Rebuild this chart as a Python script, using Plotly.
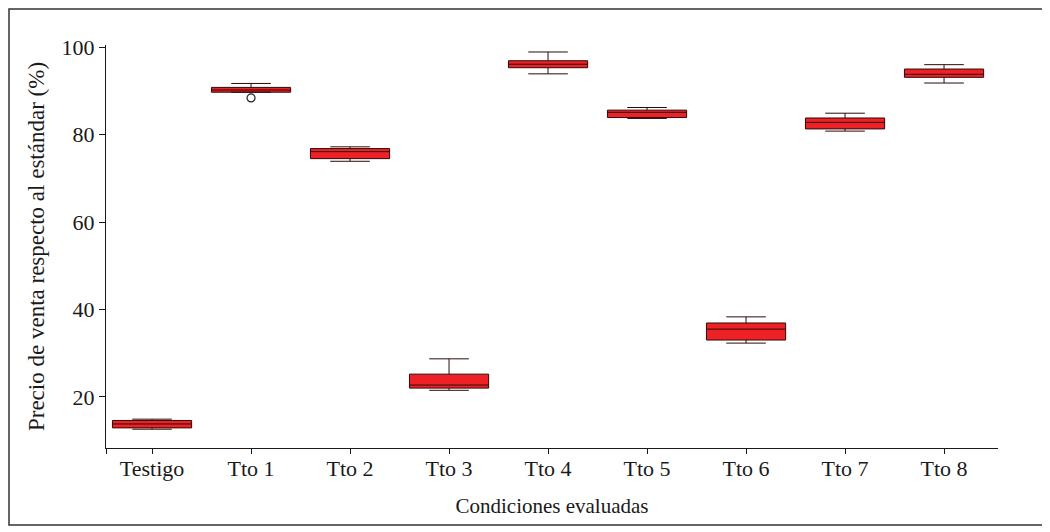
import plotly.graph_objects as go

categories = ["Testigo", "Tto 1", "Tto 2", "Tto 3", "Tto 4", "Tto 5", "Tto 6", "Tto 7", "Tto 8"]
lower_whisker = [12.6, 89.7, 73.9, 21.5, 93.9, 83.7, 32.3, 80.8, 91.8]
q1_values = [12.9, 89.7, 74.5, 22.0, 95.3, 83.9, 33.0, 81.3, 93.1]
median_values = [13.8, 90.2, 76.1, 22.7, 96.1, 85.1, 35.5, 82.8, 93.8]
q3_values = [14.6, 90.8, 76.8, 25.2, 96.9, 85.6, 36.9, 83.8, 95.0]
upper_whisker = [14.9, 91.7, 77.2, 28.7, 98.9, 86.2, 38.3, 84.9, 96.0]
outlier_cat = ["Tto 1"]
outlier_val = [88.4]

pos = list(range(len(categories)))
font_family = "Liberation Serif, Times New Roman, serif"

# the page adds an 8px body margin; plot area in window pixels: x 106..998, y 45..448
L, T, PW, PH = 98, 37, 892, 403

fig = go.Figure()
fig.add_trace(go.Box(
    x=pos, q1=q1_values, median=median_values, q3=q3_values,
    lowerfence=lower_whisker, upperfence=upper_whisker,
    width=0.8, whiskerwidth=0.5,
    fillcolor="#ee2226", line=dict(color="#2e0a0a", width=1),
    boxpoints=False, showlegend=False, hoverinfo="skip",
))
fig.add_trace(go.Scatter(
    x=[categories.index(c) for c in outlier_cat], y=outlier_val, mode="markers",
    marker=dict(symbol="circle-open", size=8, color="#222222", line=dict(width=1.2)),
    showlegend=False,
))

fig.update_layout(
    width=1050, height=532,
    margin=dict(l=L, r=1050 - L - PW, t=T, b=532 - T - PH),
    paper_bgcolor="white", plot_bgcolor="white",
    font=dict(family=font_family, size=22, color="#1a1a1a"),
    xaxis=dict(
        range=[-0.465, 8.545], automargin=False,
        tickmode="array", tickvals=[-0.465] + pos, ticktext=[""] + categories,
        ticks="outside", ticklen=5, tickcolor="#1a1a1a", ticklabelstandoff=-5,
        showline=True, linecolor="#1a1a1a", linewidth=1.3,
        showgrid=False, zeroline=False,
        title=dict(text="Condiciones evaluadas", standoff=18, font=dict(size=21)),
    ),
    yaxis=dict(
        range=[8.3, 100.5], automargin=False,
        tickmode="array", tickvals=[20, 40, 60, 80, 100],
        ticks="outside", ticklen=6, tickcolor="#1a1a1a",
        showline=True, linecolor="#1a1a1a", linewidth=1.3,
        showgrid=False, zeroline=False,
        title=dict(text="Precio de venta respecto al estándar (%)", standoff=10, font=dict(size=23)),
    ),
    shapes=[dict(
        type="rect", xref="paper", yref="paper",
        x0=(1 - L) / PW, x1=(1035 - L) / PW,
        y0=-(517 - T - PH) / PH, y1=(T + PH - 1) / PH,
        line=dict(color="#333333", width=1.5), fillcolor="rgba(0,0,0,0)", layer="below",
    )],
)

fig.write_html("out.html")
